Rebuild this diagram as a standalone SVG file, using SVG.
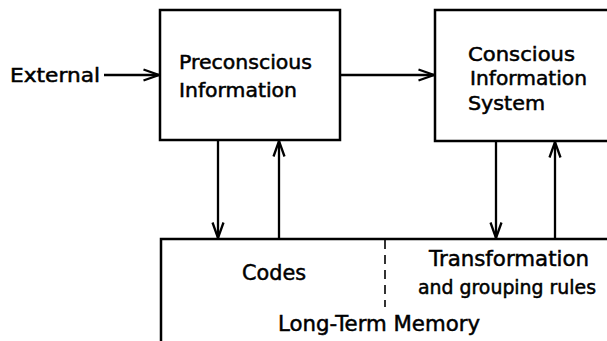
<svg xmlns="http://www.w3.org/2000/svg" width="607" height="341" viewBox="0 0 607 341">
  <defs>
    <style>
      .box { fill: none; stroke: #000; stroke-width: 2.5; }
      .wire { fill: none; stroke: #000; stroke-width: 2.3; }
      .dash { fill: none; stroke: #000; stroke-width: 1.6; stroke-dasharray: 9 6; }
      text { font-family: "DejaVu Sans", "Liberation Sans", sans-serif; fill: #000; stroke: #000; stroke-width: 0.5; }
      .lbl { font-size: 19px; }
      .big { font-size: 21px; }
      .tight { font-size: 19px; }
    </style>
    <!-- long, narrow open chevron -->
    <marker id="head" viewBox="0 0 18 14" refX="16.5" refY="7" markerWidth="18" markerHeight="14" markerUnits="userSpaceOnUse" orient="auto">
      <path d="M1,1.5 L16.5,7 L1,12.5" fill="none" stroke="#000" stroke-width="2.3" stroke-linejoin="miter"/>
    </marker>
  </defs>
  <rect width="607" height="341" fill="#fff"/>

  <g id="external">
    <text class="lbl" x="10" y="82" textLength="90" lengthAdjust="spacingAndGlyphs">External</text>
  </g>

  <g id="preconscious">
    <rect class="box" x="160" y="10" width="180" height="130"/>
    <text class="lbl" x="179" y="69" textLength="133" lengthAdjust="spacingAndGlyphs">Preconscious</text>
    <text class="lbl" x="179" y="97" textLength="118" lengthAdjust="spacingAndGlyphs">Information</text>
  </g>

  <g id="conscious">
    <path class="box" d="M620,10 H435 V141 H620"/>
    <text class="lbl" x="468" y="61" textLength="107" lengthAdjust="spacingAndGlyphs">Conscious</text>
    <text class="lbl" x="470" y="85" textLength="117" lengthAdjust="spacingAndGlyphs">Information</text>
    <text class="lbl" x="468" y="110" textLength="77" lengthAdjust="spacingAndGlyphs">System</text>
  </g>

  <g id="long-term-memory">
    <path class="box" d="M161,350 V239 H620"/>
    <line class="dash" x1="385" y1="240" x2="385" y2="307"/>
    <text class="big" x="242" y="280" textLength="64" lengthAdjust="spacingAndGlyphs">Codes</text>
    <text class="big" x="429" y="266" textLength="160" lengthAdjust="spacingAndGlyphs">Transformation</text>
    <text class="tight" x="418" y="294" textLength="178" lengthAdjust="spacingAndGlyphs">and grouping rules</text>
    <text class="big" x="278" y="331" textLength="202" lengthAdjust="spacingAndGlyphs">Long-Term Memory</text>
  </g>

  <g id="connectors">
    <line class="wire" x1="104" y1="75" x2="159" y2="75" marker-end="url(#head)"/>
    <line class="wire" x1="340" y1="75" x2="434" y2="75" marker-end="url(#head)"/>
    <line class="wire" x1="218" y1="140" x2="218" y2="238" marker-end="url(#head)"/>
    <line class="wire" x1="279" y1="239" x2="279" y2="141" marker-end="url(#head)"/>
    <line class="wire" x1="496" y1="141" x2="496" y2="238" marker-end="url(#head)"/>
    <line class="wire" x1="555" y1="239" x2="555" y2="142" marker-end="url(#head)"/>
  </g>
</svg>
